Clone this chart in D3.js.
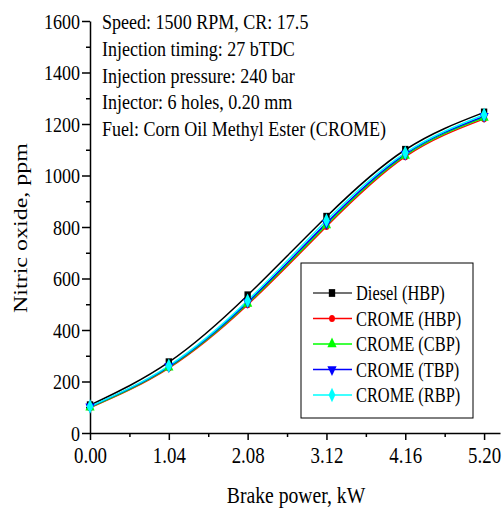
<!DOCTYPE html>
<meta charset="utf-8">
<title>Nitric oxide vs brake power</title>
<style>
body { margin: 0; background: #fff; }
text { font-family: "Liberation Serif", "Times New Roman", serif; fill: #000; }
.axis path, .axis line { stroke: #000; stroke-width: 1.5; fill: none; }
</style>
<body>
<script src="https://cdn.jsdelivr.net/npm/d3@7"></script>
<script>
// data
var powers = [0, 1.04, 2.08, 3.12, 4.16, 5.20];
var dieselHBP = [108, 275, 535, 840, 1100, 1245];
var cromeHBP = [98, 252, 498, 802, 1073, 1220];
var cromeCBP = [100, 255, 503, 808, 1078, 1225];
var cromeTBP = [102, 258, 508, 815, 1083, 1230];
var cromeRBP = [103, 261, 514, 825, 1088, 1236];
var seriesNames = ["Diesel (HBP)", "CROME (HBP)", "CROME (CBP)", "CROME (TBP)", "CROME (RBP)"];
var xTicks = [0, 1.04, 2.08, 3.12, 4.16, 5.20];
var xMinor = [0.52, 1.56, 2.60, 3.64, 4.68];
var yTicks = [0, 200, 400, 600, 800, 1000, 1200, 1400, 1600];
var yMinor = [100, 300, 500, 700, 900, 1100, 1300, 1500];
var notes = ["Speed: 1500 RPM, CR: 17.5", "Injection timing: 27 bTDC",
  "Injection pressure: 240 bar", "Injector: 6 holes, 0.20 mm",
  "Fuel: Corn Oil Methyl Ester (CROME)"];

var width = 504, height = 510;
var SX = 0.82; // the original figure is squeezed horizontally
var serif = '"Liberation Serif", "Times New Roman", serif';
var colors = ["#000000", "#ff0000", "#00ff00", "#0000ff", "#00ffff"];
var shapes = [d3.symbolSquare, d3.symbolCircle, d3.symbolTriangle, d3.symbolTriangle, d3.symbolDiamond];
var sizes = [60, 40, 55, 55, 60];
var rot = [0, 0, 0, 180, 0];

var allSeries = [dieselHBP, cromeHBP, cromeCBP, cromeTBP, cromeRBP];

var svg = d3.select("body").append("svg").attr("width", width).attr("height", height);
svg.append("rect").attr("width", width).attr("height", height).attr("fill", "#fff");

var x = d3.scaleLinear().domain([0, 5.41]).range([90, 500]);
var y = d3.scaleLinear().domain([0, 1600]).range([433, 21]);

// y axis
var yAx = svg.append("g").attr("class", "axis").attr("transform", "translate(90,0)")
  .call(d3.axisLeft(y).tickValues(yTicks).tickSize(8).tickSizeOuter(0).tickPadding(2).tickFormat(d3.format("d")));
yAx.append("g").call(d3.axisLeft(y).tickValues(yMinor).tickSize(4).tickFormat(""))
  .select(".domain").remove();
yAx.attr("font-family", null);
yAx.selectAll("text").attr("font-size", 22).style("font-family", serif)
  .attr("transform", "scale(" + SX + ",1)").attr("x", -10 / SX);

// x axis
var xAx = svg.append("g").attr("class", "axis").attr("transform", "translate(0,433)")
  .call(d3.axisBottom(x).tickValues(xTicks).tickSize(7).tickSizeOuter(0).tickPadding(7).tickFormat(d3.format(".2f")));
xAx.append("g").call(d3.axisBottom(x).tickValues(xMinor).tickSize(4).tickFormat(""))
  .select(".domain").remove();
xAx.attr("font-family", null);
// bottom axis text is centred at x=0 inside each tick group, so the squeeze keeps it centred
xAx.selectAll("text").attr("font-size", 23).style("font-family", serif)
  .attr("transform", "scale(" + SX + ",1)");

// axis titles
svg.append("text").attr("transform", "translate(296,503) scale(" + SX + ",1)")
  .attr("text-anchor", "middle").attr("font-size", 24).text("Brake power, kW");
svg.append("text").attr("transform", "translate(27,228) scale(" + SX + ",1) rotate(-90)")
  .attr("text-anchor", "middle").attr("font-size", 24).text("Nitric oxide, ppm");

// notes
svg.selectAll(".note").data(notes).enter().append("text").attr("class", "note")
  .attr("transform", function (d, i) { return "translate(102," + (29 + i * 26.8) + ") scale(" + SX + ",1)"; })
  .attr("font-size", 22).text(function (d) { return d; });

// lines
var line = d3.line().x(function (d) { return x(d[0]); }).y(function (d) { return y(d[1]); })
  .curve(d3.curveNatural);

allSeries.forEach(function (vals, k) {
  var pts = powers.map(function (p, i) { return [p, vals[i]]; });
  svg.append("path").datum(pts).attr("d", line).attr("fill", "none")
    .attr("stroke", colors[k]).attr("stroke-width", 1.5);
});
allSeries.forEach(function (vals, k) {
  var pts = powers.map(function (p, i) { return [p, vals[i]]; });
  svg.selectAll(".m" + k).data(pts).enter().append("path").attr("class", "m" + k)
    .attr("d", d3.symbol().type(shapes[k]).size(sizes[k]))
    .attr("fill", colors[k])
    .attr("transform", function (d) {
      return "translate(" + x(d[0]) + "," + y(d[1]) + ") scale(" + SX + ",1) rotate(" + rot[k] + ")";
    });
});

// legend
var lg = svg.append("g");
lg.append("rect").attr("x", 301).attr("y", 263).attr("width", 172).attr("height", 155)
  .attr("fill", "#fff").attr("stroke", "#000").attr("stroke-width", 1);
seriesNames.forEach(function (name, k) {
  var cy = 293 + k * 25.5;
  lg.append("line").attr("x1", 313).attr("x2", 352).attr("y1", cy).attr("y2", cy)
    .attr("stroke", k === 0 ? "#444" : colors[k]).attr("stroke-width", 1.5);
  lg.append("path").attr("d", d3.symbol().type(shapes[k]).size(sizes[k]))
    .attr("fill", colors[k])
    .attr("transform", "translate(332," + cy + ") scale(" + SX + ",1) rotate(" + rot[k] + ")");
  lg.append("text").attr("transform", "translate(356," + (cy + 7) + ") scale(" + SX + ",1)")
    .attr("font-size", 20).text(name);
});
</script>
</body>
